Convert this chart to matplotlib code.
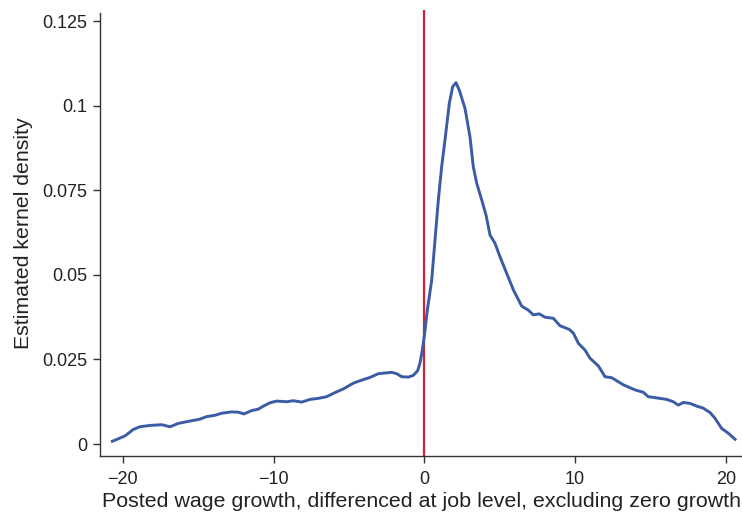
import numpy as np
import matplotlib
matplotlib.use('Agg')
import matplotlib.pyplot as plt

plt.rcParams['font.family'] = ['Liberation Sans', 'DejaVu Sans']
plt.rcParams['axes.unicode_minus'] = True

# kernel density estimate
wage_growth = [-20.70, -19.86, -19.31, -18.87, -18.20, -17.43, -16.87, -16.32,
               -15.66, -14.93, -14.44, -13.89, -13.44, -12.78, -12.34, -11.96,
               -11.45, -11.02, -10.68, -10.24, -9.79, -9.13, -8.69, -8.14,
               -7.58, -7.03, -6.48, -5.93, -5.37, -4.71, -4.15, -3.60,
               -3.05, -2.61, -2.16, -1.83, -1.50, -1.06, -0.73, -0.44,
               -0.29, -0.13, 0.00, 0.20, 0.49, 0.71, 0.93, 1.15,
               1.37, 1.66, 1.88, 2.10, 2.32, 2.70, 3.03, 3.25,
               3.48, 3.81, 4.09, 4.36, 4.69, 5.02, 5.42, 5.91,
               6.46, 6.90, 7.23, 7.63, 8.01, 8.56, 9.00, 9.62,
               9.89, 10.22, 10.66, 10.99, 11.55, 11.99, 12.44, 13.21,
               13.98, 14.53, 14.86, 16.08, 16.52, 16.85, 17.19, 17.63,
               18.08, 18.51, 18.96, 19.29, 19.73, 20.17, 20.62]
density = [0.0008, 0.0024, 0.0043, 0.0051, 0.0055, 0.0057, 0.0051, 0.0061,
           0.0067, 0.0073, 0.0081, 0.0085, 0.0091, 0.0095, 0.0094, 0.0089,
           0.0099, 0.0103, 0.0112, 0.0122, 0.0127, 0.0125, 0.0128, 0.0124,
           0.0132, 0.0135, 0.0140, 0.0152, 0.0163, 0.0180, 0.0189, 0.0197,
           0.0208, 0.0210, 0.0212, 0.0208, 0.0199, 0.0198, 0.0203, 0.0217,
           0.0239, 0.0278, 0.0320, 0.0396, 0.0485, 0.0604, 0.0722, 0.0820,
           0.0899, 0.1008, 0.1057, 0.1069, 0.1047, 0.0993, 0.0909, 0.0820,
           0.0771, 0.0722, 0.0678, 0.0618, 0.0594, 0.0554, 0.0510, 0.0456,
           0.0408, 0.0396, 0.0382, 0.0385, 0.0375, 0.0372, 0.0350, 0.0339,
           0.0328, 0.0298, 0.0278, 0.0254, 0.0231, 0.0199, 0.0196, 0.0175,
           0.0160, 0.0153, 0.0140, 0.0132, 0.0125, 0.0115, 0.0123, 0.0120,
           0.0112, 0.0106, 0.0093, 0.0076, 0.0046, 0.0032, 0.0014]

x_ticks = [-20, -10, 0, 10, 20]
x_tick_labels = ['\u221220', '\u221210', '0', '10', '20']
y_ticks = [0, 0.025, 0.05, 0.075, 0.1, 0.125]
y_tick_labels = ['0', '0.025', '0.05', '0.075', '0.1', '0.125']

fig = plt.figure(figsize=(7.42, 5.12), dpi=100)
ax = fig.add_axes([100 / 742, 1 - 456 / 512, 642 / 742, 446 / 512])

ax.plot(wage_growth, density, color='#3b5ba5', lw=2.1, zorder=3)
ax.axvline(0, color='#d42035', lw=1.6, zorder=2)

ax.set_xlim(-21.52, 21.08)
ax.set_ylim(-0.00355, 0.1284)
ax.set_xticks(x_ticks)
ax.set_xticklabels(x_tick_labels)
ax.set_yticks(y_ticks)
ax.set_yticklabels(y_tick_labels)

for side in ('top', 'right'):
    ax.spines[side].set_visible(False)
for side in ('left', 'bottom'):
    ax.spines[side].set_color('#333333')
    ax.spines[side].set_linewidth(1.0)
ax.spines['left'].set_bounds(-0.00355, 0.1275)

ax.tick_params(axis='both', direction='out', length=5, width=1.0,
               color='#333333', labelsize=13, labelcolor='#222222')
ax.tick_params(axis='x', pad=6)
ax.tick_params(axis='y', pad=4)

ax.set_ylabel('Estimated kernel density', fontsize=15.3, color='#222222', labelpad=7)
ax.set_xlabel('Posted wage growth, differenced at job level, excluding zero growth',
              fontsize=15.4, color='#222222', labelpad=3)

plt.savefig('out.png', dpi=100)
plt.close(fig)
